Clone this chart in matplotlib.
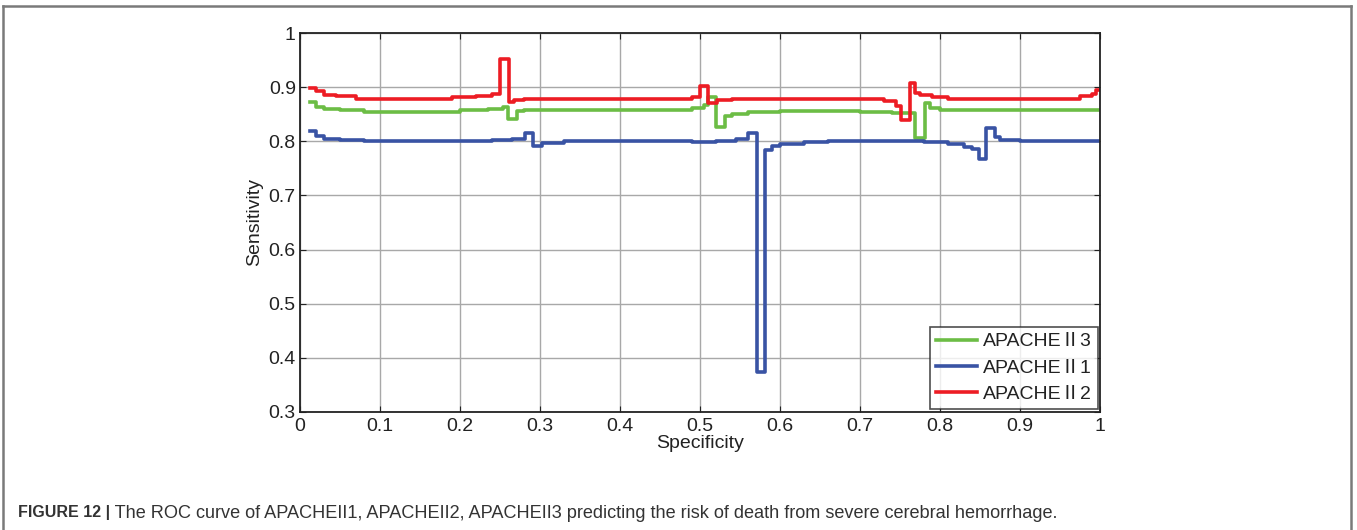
import matplotlib
matplotlib.use("Agg")
import matplotlib.pyplot as plt
from matplotlib.lines import Line2D

# ---- data ----
x_ap1 = [0.0125, 0.02, 0.03, 0.05, 0.08, 0.24, 0.265, 0.281, 0.291, 0.302, 0.33, 0.49, 0.52, 0.545,
         0.56, 0.571, 0.581, 0.59, 0.60, 0.63, 0.66, 0.78, 0.81, 0.83, 0.84, 0.849, 0.858, 0.869,
         0.875, 0.90, 1.0]
y_ap1 = [0.819, 0.81, 0.805, 0.802, 0.800, 0.802, 0.805, 0.815, 0.792, 0.797, 0.800, 0.799, 0.801, 0.805,
         0.815, 0.374, 0.784, 0.791, 0.795, 0.798, 0.800, 0.798, 0.795, 0.790, 0.785, 0.767, 0.825, 0.808,
         0.803, 0.800, 0.800]

x_ap2 = [0.0125, 0.02, 0.03, 0.045, 0.07, 0.19, 0.22, 0.24, 0.25, 0.2615, 0.268, 0.28, 0.47, 0.49,
         0.50, 0.51, 0.521, 0.54, 0.57, 0.72, 0.73, 0.745, 0.751, 0.762, 0.769, 0.775, 0.79, 0.81,
         0.96, 0.975, 0.99, 0.995, 1.0]
y_ap2 = [0.899, 0.892, 0.886, 0.883, 0.879, 0.881, 0.884, 0.888, 0.952, 0.872, 0.876, 0.879, 0.879, 0.882,
         0.903, 0.871, 0.876, 0.878, 0.879, 0.878, 0.875, 0.866, 0.839, 0.907, 0.890, 0.886, 0.882, 0.879,
         0.879, 0.883, 0.887, 0.895, 0.895]

x_ap3 = [0.0125, 0.02, 0.03, 0.05, 0.08, 0.20, 0.235, 0.254, 0.26, 0.271, 0.28, 0.47, 0.49, 0.505,
         0.51, 0.52, 0.531, 0.54, 0.56, 0.60, 0.70, 0.74, 0.769, 0.781, 0.788, 0.80, 1.0]
y_ap3 = [0.873, 0.864, 0.860, 0.857, 0.855, 0.857, 0.860, 0.863, 0.841, 0.856, 0.857, 0.858, 0.862, 0.867,
         0.882, 0.827, 0.847, 0.851, 0.854, 0.856, 0.855, 0.853, 0.806, 0.871, 0.862, 0.857, 0.857]

x_ticks = [0, 0.1, 0.2, 0.3, 0.4, 0.5, 0.6, 0.7, 0.8, 0.9, 1.0]
x_tick_labels = ["0", "0.1", "0.2", "0.3", "0.4", "0.5", "0.6", "0.7", "0.8", "0.9", "1"]
y_ticks = [0.3, 0.4, 0.5, 0.6, 0.7, 0.8, 0.9, 1.0]
y_tick_labels = ["0.3", "0.4", "0.5", "0.6", "0.7", "0.8", "0.9", "1"]

labels = ["APACHEⅡ3", "APACHEⅡ1", "APACHEⅡ2"]
caption_bold = "FIGURE 12 |"
caption_text = " The ROC curve of APACHEII1, APACHEII2, APACHEII3 predicting the risk of death from severe cerebral hemorrhage."

# ---- figure ----
W, H = 1357, 530
fig = plt.figure(figsize=(W / 100, H / 100), dpi=100)
plt.rcParams['font.family'] = ['Liberation Sans', 'Noto Sans CJK SC', 'DejaVu Sans']

ax = fig.add_axes([300 / W, 1 - 412 / H, 800 / W, 379 / H])

c_green = '#6cbd45'
c_blue = '#3953a4'
c_red = '#ed1c24'
lw = 2.6
ax.plot(x_ap3, y_ap3, drawstyle='steps-post', color=c_green, lw=lw, label=labels[0])
ax.plot(x_ap1, y_ap1, drawstyle='steps-post', color=c_blue, lw=lw, label=labels[1])
ax.plot(x_ap2, y_ap2, drawstyle='steps-post', color=c_red, lw=lw, label=labels[2])

ax.set_xlim(0, 1)
ax.set_ylim(0.3, 1)
ax.set_xticks(x_ticks)
ax.set_xticklabels(x_tick_labels)
ax.set_yticks(y_ticks)
ax.set_yticklabels(y_tick_labels)
ax.tick_params(direction='in', top=True, right=True, length=4, width=0.8,
               labelsize=14, colors='#222222', pad=3)
ax.tick_params(axis='x', pad=4)
ax.grid(True, color='#a8a8a8', lw=1.0)
ax.set_axisbelow(True)
for s in ax.spines.values():
    s.set_color('#222222')
    s.set_linewidth(1.3)

ax.set_xlabel("Specificity", fontsize=14, color='#222222', labelpad=0)
ax.set_ylabel("Sensitivity", fontsize=14, color='#222222', labelpad=4)

leg = ax.legend(loc='lower right', bbox_to_anchor=(0.997, 0.008), borderaxespad=0,
                frameon=True, fancybox=False, handlelength=2.1,
                handletextpad=0.3, labelspacing=0.45, borderpad=0.3,
                prop={'family': ['Liberation Sans', 'Noto Sans CJK SC'], 'size': 14})
leg.get_frame().set_edgecolor('#222222')
leg.get_frame().set_linewidth(1.2)
for t in leg.get_texts():
    t.set_color('#222222')

# outer border of the figure panel
bc = '#7a7a7a'
fig.add_artist(Line2D([3 / W, 3 / W], [0, 1 - 6 / H], color=bc, lw=1.8))
fig.add_artist(Line2D([3 / W, 1351 / W], [1 - 6 / H, 1 - 6 / H], color=bc, lw=1.8))
fig.add_artist(Line2D([1351 / W, 1351 / W], [0, 1 - 6 / H], color=bc, lw=1.8))

# caption
cap_y = 1 - 513 / H
t1 = fig.text(18 / W, cap_y, caption_bold, fontsize=11.5, fontweight='bold', color='#333333',
              va='center', ha='left', family=['Liberation Sans'])
fig.canvas.draw()
r = fig.canvas.get_renderer()
bb = t1.get_window_extent(r)
t2 = fig.text(bb.x1 / W, cap_y, caption_text, fontsize=11.5, color='#333333',
              va='center', ha='left', family=['Liberation Sans'])
# fit caption width to the reference (ends around x=1062 px)
bb2 = t2.get_window_extent(r)
target = 1062 - bb.x1
if bb2.width > 0:
    t2.set_fontsize(11.5 * target / bb2.width)

fig.savefig("out.png", dpi=100)
